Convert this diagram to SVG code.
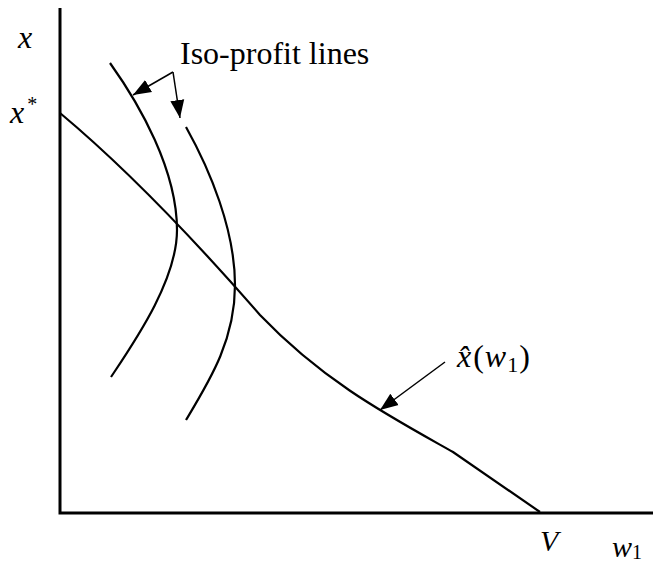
<svg xmlns="http://www.w3.org/2000/svg" width="653" height="565" viewBox="0 0 653 565">
<style>
text{font-family:"Liberation Serif","Times New Roman",serif;fill:#000}
.it{font-style:italic}
.axis{stroke:#000;stroke-width:3;fill:none}
.curve{stroke:#000;stroke-width:2.2;fill:none}
.arr{stroke:#000;stroke-width:1.5;fill:none;marker-end:url(#ah)}
</style>
<defs>
<marker id="ah" markerUnits="userSpaceOnUse" markerWidth="20" markerHeight="16" refX="18" refY="7" orient="auto" viewBox="0 0 20 14">
<path d="M0,0 L18,7 L0,14 Z" fill="#000"/>
</marker>
</defs>
<rect width="653" height="565" fill="#fff"/>
<g id="axes">
<path class="axis" d="M60,8 V514.5 M58.5,513 H653"/>
</g>
<g id="x-hat-curve">
<path class="curve" d="M60,113 C127,169 193,238 260,315 C324,382 389,416 453,452 L540,512"/>
</g>
<g id="iso-profit-1">
<path class="curve" d="M110,63 C140,105 177,170 177,230 C177,280 135,341 111,377"/>
</g>
<g id="iso-profit-2">
<path class="curve" d="M186,127 C210,170 235,230 235,285 C235,340 210,380 186,420"/>
</g>
<g id="connectors">
<line class="arr" x1="173" y1="72" x2="133" y2="95"/>
<line class="arr" x1="173" y1="72" x2="180" y2="118"/>
<line class="arr" x1="445" y1="362" x2="380" y2="410"/>
</g>
<g id="labels">
<text x="180" y="64" font-size="32">Iso-profit lines</text>
<text class="it" x="18" y="48" font-size="32">x</text>
<text x="10" y="123" font-size="32"><tspan class="it">x</tspan><tspan font-size="20" dx="3" dy="-12">*</tspan></text>
<text x="457" y="367" font-size="32"><tspan class="it">x̂</tspan><tspan dx="2">(</tspan><tspan class="it" dx="1">w</tspan><tspan font-size="22" dx="1" dy="5">1</tspan><tspan dx="1" dy="-5">)</tspan></text>
<text class="it" x="540" y="551" font-size="30">V</text>
<text x="612" y="557" font-size="30"><tspan class="it">w</tspan><tspan font-size="20" dy="2">1</tspan></text>
</g>
</svg>
